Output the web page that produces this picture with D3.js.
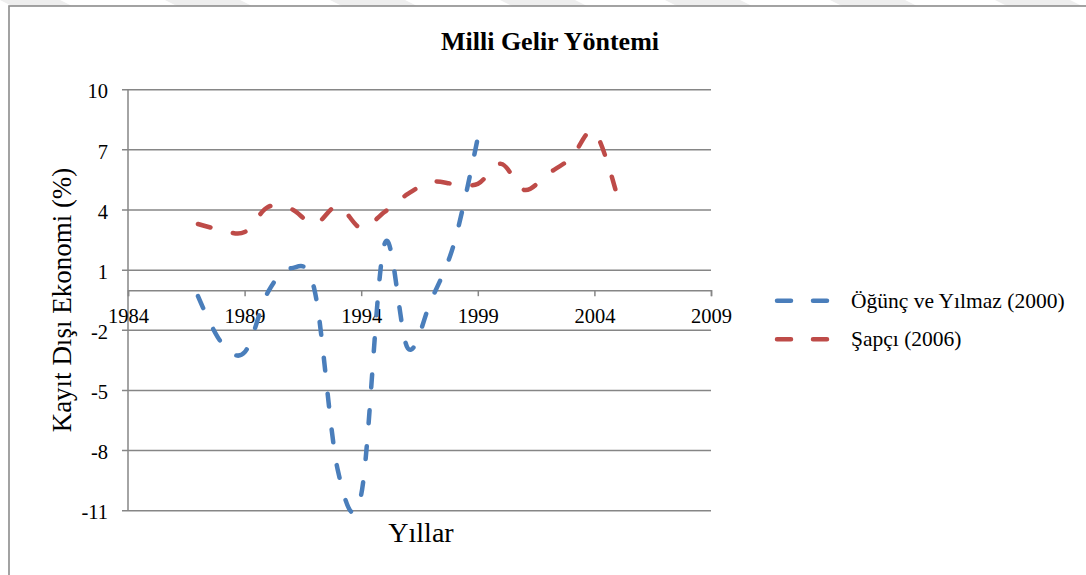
<!DOCTYPE html>
<html>
<head>
<meta charset="utf-8">
<script src="https://cdn.jsdelivr.net/npm/d3@7"></script>
<style>
html,body{margin:0;padding:0;background:#fff;}
svg{display:block;}
text{font-family:"Liberation Serif","Times New Roman",serif;fill:#000;}
</style>
</head>
<body>
<svg id="chart" width="1086" height="575"></svg>
<script>
const title = "Milli Gelir Yöntemi";
const yTitle = "Kayıt Dışı Ekonomi (%)";
const xTitle = "Yıllar";
const xTicks = [1984, 1989, 1994, 1999, 2004, 2009];
const yTicks = [10, 7, 4, 1, -2, -5, -8, -11];

const seriesNames = ["Öğünç ve Yılmaz (2000)", "Şapçı (2006)"];
const yearsA = [1987,1988,1989,1990,1991,1992,1993,1994,1995,1996,1997,1998,1999];
const valuesA = [-0.3,-2.6,-3.1,-0.1,1.1,0.0,-9.0,-10.2,2.3,-2.9,-0.5,2.4,7.6];
const yearsB = [1987,1988,1989,1990,1991,1992,1993,1994,1995,1996,1997,1998,1999,2000,2001,2002,2003,2004,2005];
const valuesB = [3.3,3.0,2.9,4.15,4.05,3.3,4.2,3.1,3.9,4.8,5.4,5.3,5.3,6.3,5.0,5.8,6.6,7.9,4.6];
const colors = ["#4A7EBB", "#BE4B48"];

const svg = d3.select("#chart");

// faint background stripes above frame
const stripes = [[0,60],[165,240],[330,405],[500,575],[665,740],[830,905],[995,1070]];
svg.selectAll("polygon.stripe").data(stripes).join("polygon")
  .attr("points", d => `${d[0]},0 ${d[1]},0 ${d[1]+12},6 ${d[0]+12},6`)
  .attr("fill", "#eeeeee");

// outer frame
svg.append("rect").attr("x", 9).attr("y", 6).attr("width", 1090).attr("height", 600)
  .attr("fill", "#fff").attr("stroke", "#8c8c8c").attr("stroke-width", 1.6);

const x = d3.scaleLinear().domain([1984, 2009]).range([128, 711]);
const y = d3.scaleLinear().domain([-11, 10]).range([510.7, 89.7]);

// gridlines
svg.append("g").selectAll("line").data(yTicks).join("line")
  .attr("x1", x(1984) - 6).attr("x2", x(2009))
  .attr("y1", d => y(d)).attr("y2", d => y(d))
  .attr("stroke", "#868686").attr("stroke-width", 1.5);

// y axis line
svg.append("line").attr("x1", x(1984)).attr("x2", x(1984))
  .attr("y1", y(10)).attr("y2", y(-11))
  .attr("stroke", "#868686").attr("stroke-width", 1.5);

// x axis at y = 0
const xAxis = d3.axisBottom(x).tickValues(xTicks).tickFormat(d => String(d)).tickSize(6).tickPadding(12);
const gx = svg.append("g").attr("transform", `translate(0,${y(0)})`).call(xAxis);
gx.select(".domain").attr("stroke", "#868686").attr("stroke-width", 1.5);
gx.selectAll(".tick line").attr("stroke", "#868686").attr("stroke-width", 1.5);
gx.selectAll(".tick text").attr("font-size", 20.5).attr("fill", "#000");

// y tick labels
const yAxis = d3.axisLeft(y).tickValues(yTicks).tickFormat(d => String(d)).tickSize(0).tickPadding(20);
const gy = svg.append("g").attr("transform", `translate(${x(1984)},0)`).call(yAxis);
gy.select(".domain").remove();
gy.selectAll(".tick text").attr("font-size", 20.5).attr("dy", "0.4em").attr("fill", "#000");

// lines
const line = d3.line().x(d => x(d[0])).y(d => y(d[1])).curve(d3.curveCardinal.tension(0));
const data = [d3.zip(yearsA, valuesA), d3.zip(yearsB, valuesB)];
svg.append("g").selectAll("path").data(data).join("path")
  .attr("d", line)
  .attr("fill", "none")
  .attr("stroke", (d, i) => colors[i])
  .attr("stroke-width", 4.5)
  .attr("stroke-linecap", "round")
  .attr("stroke-dasharray", "13,23");

// titles
svg.append("text").attr("x", 550).attr("y", 50).attr("text-anchor", "middle")
  .attr("font-size", 26).attr("font-weight", "bold").text(title);
svg.append("text").attr("transform", "translate(71,300) rotate(-90)").attr("text-anchor", "middle")
  .attr("font-size", 27).text(yTitle);
svg.append("text").attr("x", 421).attr("y", 542).attr("text-anchor", "middle")
  .attr("font-size", 28).text(xTitle);

// legend
const lg = svg.append("g").selectAll("g").data(seriesNames).join("g")
  .attr("transform", (d, i) => `translate(775,${300.7 + i * 38.6})`);
lg.append("line").attr("x1", 2).attr("x2", 54).attr("y1", 0).attr("y2", 0)
  .attr("stroke", (d, i) => colors[i]).attr("stroke-width", 4.5)
  .attr("stroke-linecap", "round").attr("stroke-dasharray", "14,22");
lg.append("text").attr("x", 76).attr("y", 7).attr("font-size", 21.5).text(d => d);
</script>
</body>
</html>
